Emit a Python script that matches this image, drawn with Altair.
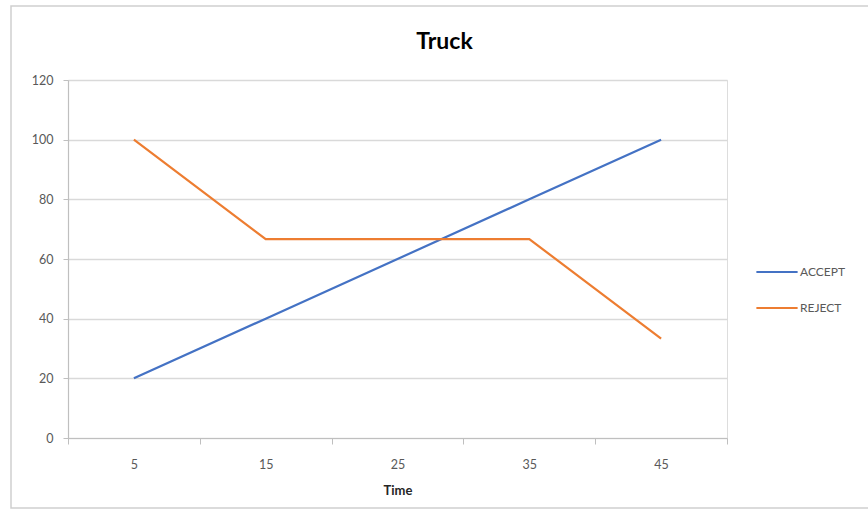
import altair as alt
import pandas as pd

# Truck: share of ACCEPT / REJECT over time
times = [5, 15, 25, 35, 45]
accept = [20, 40, 60, 80, 100]
reject = [100, 66.67, 66.67, 66.67, 33.33]
series_names = ["ACCEPT", "REJECT"]
series_colors = ["#4472C4", "#ED7D31"]
y_ticks = [0, 20, 40, 60, 80, 100, 120]

rows = []
for t, a, r in zip(times, accept, reject):
    rows.append({"Time": t, "Series": "ACCEPT", "Value": a})
    rows.append({"Time": t, "Series": "REJECT", "Value": r})
df = pd.DataFrame(rows)

FONT = "Lato"
AXIS_GREY = "#bfbfbf"
LABEL_GREY = "#595959"

lines = alt.Chart(df).mark_line(strokeWidth=2.2).encode(
    x=alt.X(
        "Time:O",
        sort=times,
        scale=alt.Scale(type="band", paddingInner=0, paddingOuter=0),
        axis=alt.Axis(
            title="Time",
            titleFont=FONT,
            titleFontSize=13,
            titleFontWeight="bold",
            titleColor="#262626",
            titlePadding=14,
            labelAngle=0,
            labelFont=FONT,
            labelFontSize=12.5,
            labelColor=LABEL_GREY,
            labelPadding=14,
            domainColor=AXIS_GREY,
            domainWidth=1.2,
            tickColor=AXIS_GREY,
            tickSize=6,
            tickBand="extent",
            grid=False,
        ),
    ),
    y=alt.Y(
        "Value:Q",
        scale=alt.Scale(domain=[0, 120], nice=False, zero=True),
        axis=alt.Axis(
            title=None,
            values=y_ticks,
            labelFont=FONT,
            labelFontSize=12.5,
            labelColor=LABEL_GREY,
            labelPadding=10,
            domainColor=AXIS_GREY,
            domainWidth=1.2,
            tickColor=AXIS_GREY,
            tickSize=5,
            grid=True,
            gridColor="#d9d9d9",
            gridWidth=1.6,
        ),
    ),
    color=alt.Color(
        "Series:N",
        scale=alt.Scale(domain=series_names, range=series_colors),
        legend=alt.Legend(
            title=None,
            orient="none",
            legendX=687,
            legendY=170,
            symbolType="stroke",
            symbolSize=1700,
            symbolStrokeWidth=2.2,
            labelFont=FONT,
            labelFontSize=12,
            labelColor=LABEL_GREY,
            labelOffset=1,
            rowPadding=8,
            padding=0,
        ),
    ),
)

# light outer frame around the chart
frame = alt.Chart(alt.Data(values=[{"f": 1}])).mark_rect(
    fill=None, stroke="#cfcfcf", strokeWidth=1.5
).encode(
    x=alt.value(-57), x2=alt.value(807), y=alt.value(-74), y2=alt.value(428)
)

chart = alt.layer(frame, lines).properties(
    width=659,
    height=358,
    title=alt.TitleParams(
        "Truck",
        font=FONT,
        fontSize=23,
        fontWeight="bold",
        color="#000000",
        anchor="middle",
        frame="group",
        dx=47,
        offset=-49,
    ),
    autosize=alt.AutoSizeParams(type="none"),
    padding={"left": 68, "top": 80, "right": 141, "bottom": 76},
).configure_view(stroke=None).configure(background="white")

chart.save("out.html", embed_options={"renderer": "svg", "actions": False})
